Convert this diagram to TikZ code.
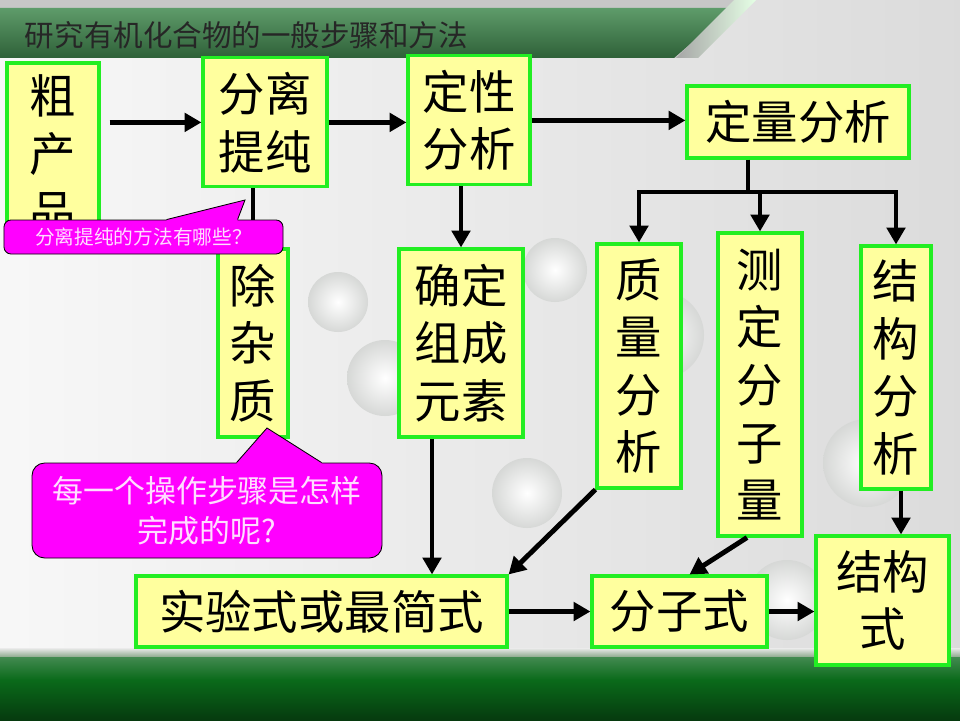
\documentclass[tikz,border=0pt]{standalone}
\usepackage{fontspec}
\setmainfont{Noto Sans CJK SC}
\usetikzlibrary{arrows.meta,positioning}

\definecolor{boxfill}{HTML}{FFFF9E}
\definecolor{boxline}{HTML}{22EE22}
\definecolor{tipfill}{HTML}{FF00FF}
\definecolor{tiptext}{HTML}{FFDDFF}
\definecolor{headgreen}{HTML}{428A50}
\definecolor{bandgreen}{HTML}{0A6A1A}

\begin{document}
\begin{tikzpicture}[
    box/.style={rectangle, draw=boxline, fill=boxfill, line width=2.2pt, inner sep=0pt, align=center, font=\fontsize{33}{41}\selectfont},
    arr/.style={line width=3.5pt, -{Triangle[length=12pt,width=13pt]}},
    link/.style={line width=3.5pt},
    bubble/.style={draw=black, fill=tipfill, line width=0.6pt, inner sep=0pt, align=center, text=tiptext}
]
    \useasboundingbox (0,0) rectangle (24,18);

    % background, header and footer
    \shade[left color=black!3, right color=black!14] (0,0) rectangle (24,18);
    \foreach \x/\y/\r in {8.45/10.45/0.75, 9.625/8.55/0.95, 13.175/5.675/0.875, 13.875/11.25/0.8, 16.5/9.625/1.1, 21.675/6.425/1.1, 19.675/3.0/1.0} {
        \shade[inner color=white, outer color=green!4!black!16] (\x,\y) circle (\r);
    }
    \fill[black!22] (0,18) -- (18.6,18) -- (17.1,16.55) -- (0,16.55) -- cycle;
    \shade[top color=headgreen!85!white, bottom color=headgreen!70!black] (0,17.8) -- (18.3,17.8) -- (16.85,16.55) -- (0,16.55) -- cycle;
    \shade[left color=black!35, right color=white!90!green] (18.35,18) -- (18.9,18) -- (17.45,16.55) -- (16.9,16.55) -- cycle;
    \shade[top color=black!8, bottom color=green!25!black!45] (0,1.8) rectangle (24,1.575);
    \shade[top color=headgreen, bottom color=bandgreen] (0,1.575) rectangle (24,1.0);
    \shade[top color=bandgreen, bottom color=bandgreen!55!black] (0,1.0) rectangle (24,0);

    \node[anchor=west, font=\fontsize{21}{25}\selectfont, text=black!85] (title) at (0.5,17.12) {研究有机化合物的一般步骤和方法};

    % steps
    \node[box, minimum width=2.3cm, minimum height=4.55cm] (crude) at (1.325,14.15) {粗\\产\\品};
    \node[box, minimum width=3.1cm, minimum height=3.225cm] (sep) at (6.625,14.94) {分离\\提纯};
    \node[box, minimum width=3.05cm, minimum height=3.225cm] (qual) at (11.725,14.99) {定性\\分析};
    \node[box, minimum width=5.55cm, minimum height=1.8cm] (quant) at (19.95,14.95) {定量分析};
    \node[box, minimum width=1.75cm, minimum height=4.7cm] (impur) at (6.325,9.425) {除\\杂\\质};
    \node[box, minimum width=3.1cm, minimum height=4.7cm] (elem) at (11.525,9.425) {确定\\组成\\元素};
    \node[box, minimum width=2.1cm, minimum height=6.1cm] (mass) at (15.975,8.85) {质\\量\\分\\析};
    \node[box, minimum width=2.1cm, minimum height=7.575cm] (molw) at (19.0,8.3875) {测\\定\\分\\子\\量};
    \node[box, minimum width=1.75cm, minimum height=6.075cm] (struct) at (22.4,8.8125) {结\\构\\分\\析};
    \node[box, minimum width=9.275cm, minimum height=1.775cm] (empir) at (8.0375,2.7125) {实验式或最简式};
    \node[box, minimum width=4.375cm, minimum height=1.775cm] (molf) at (16.9875,2.7125) {分子式};
    \node[box, minimum width=3.325cm, minimum height=3.225cm] (sform) at (22.0625,2.9875) {结构\\式};

    % arrows
    \draw[arr, shorten <=0.225cm] (crude.east |- sep.west) -- (sep.west);
    \draw[arr] (sep.east) -- (sep.east -| qual.west);
    \draw[arr] (qual.east) -- (qual.east -| quant.west);
    \draw[arr] (qual.south -| elem.north) -- (elem.north);
    \draw[arr] (sep.south -| impur.north) -- (impur.north);
    \coordinate (trunk) at (18.7,13.2);
    \draw[link] (quant.south -| trunk) -- (trunk);
    \draw[arr] (trunk) -| (mass.north);
    \draw[arr] (trunk) -| (struct.north);
    \draw[arr] (trunk -| molw.north) -- (molw.north);
    \draw[arr] ([xshift=-0.725cm]elem.south) -- ([xshift=-0.725cm]elem.south |- empir.north);
    \draw[arr] (mass.south west) -- (empir.north east);
    \draw[arr] ([xshift=-0.325cm]molw.south) -- ([xshift=0.25cm]molf.north);
    \draw[arr] ([xshift=0.125cm]struct.south) -- ([xshift=0.125cm]struct.south |- sform.north);
    \draw[arr] (empir.east) -- (molf.west);
    \draw[arr] (molf.east) -- (molf.east -| sform.west);

    % callouts
    \node[bubble, rounded corners=5pt, minimum width=6.975cm, minimum height=0.85cm, font=\fontsize{14}{16}\selectfont] (ask) at (3.5875,12.075) {分离提纯的方法有哪些？};
    \coordinate (asktip) at (6.125,13.0);
    \fill[tipfill] ([xshift=4.075cm,yshift=-1.5pt]ask.north west) -- ([xshift=4.075cm]ask.north west) -- (asktip) -- ([xshift=5.85cm]ask.north west) -- ([xshift=5.85cm,yshift=-1.5pt]ask.north west) -- cycle;
    \draw[line width=0.6pt] ([xshift=4.075cm]ask.north west) -- (asktip) -- ([xshift=5.85cm]ask.north west);

    \node[bubble, rounded corners=9pt, minimum width=8.75cm, minimum height=2.375cm, font=\fontsize{22}{28.5}\selectfont] (how) at (5.175,5.2375) {每一个操作步骤是怎样\\完成的呢?};
    \coordinate (howtip) at (6.675,7.3);
    \fill[tipfill] ([xshift=5.125cm,yshift=-1.5pt]how.north west) -- ([xshift=5.125cm]how.north west) -- (howtip) -- ([xshift=7.25cm]how.north west) -- ([xshift=7.25cm,yshift=-1.5pt]how.north west) -- cycle;
    \draw[line width=0.6pt] ([xshift=5.125cm]how.north west) -- (howtip) -- ([xshift=7.25cm]how.north west);
\end{tikzpicture}
\end{document}
